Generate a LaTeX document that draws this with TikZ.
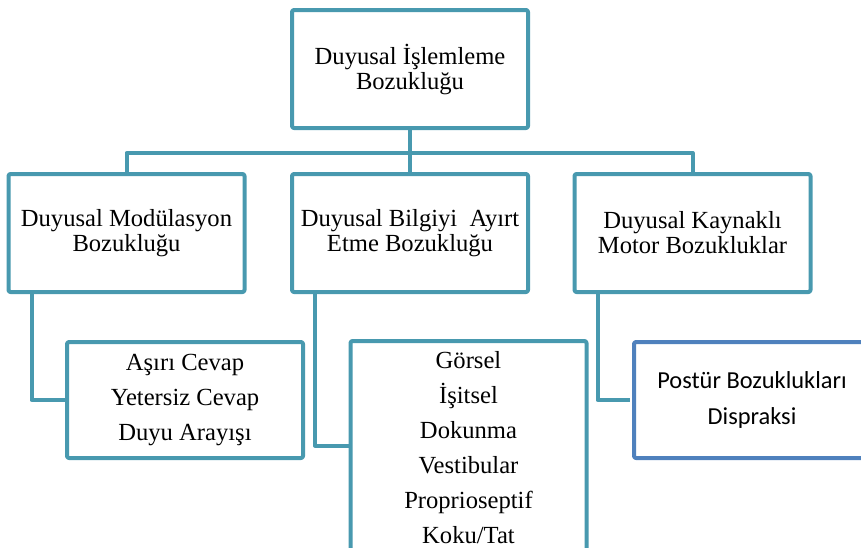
\documentclass[tikz,border=0pt]{standalone}
\usepackage{fontspec}
\setmainfont{Liberation Serif}
\newfontfamily\calibri{Carlito}
\usepackage{tikz}
\usetikzlibrary{calc,positioning}
\definecolor{teal1}{RGB}{72,153,175}
\definecolor{blue1}{RGB}{79,129,189}
\tikzset{box/.style={draw=teal1,line width=2pt,rounded corners=1pt,fill=white,inner sep=0pt,align=center},
  head/.style={box,minimum width=118pt,minimum height=59pt,font=\fontsize{12.3}{12.5}\selectfont},
  kid/.style={box,minimum width=118pt,minimum height=58pt,font=\fontsize{12.3}{17.5}\selectfont},
  conn/.style={draw=teal1,line width=2pt}}

\begin{document}
\begin{tikzpicture}[x=0.5pt,y=-0.5pt,line join=round]
\useasboundingbox (0,0) rectangle (861,547);
\clip (0,0) rectangle (861,547);
% --- top and first level
\node[head] (top) at (410,69) {Duyusal İşlemleme\\Bozukluğu};
\node[head] (mod) at (126.5,233) {Duyusal Modülasyon\\Bozukluğu};
\node[head] (ayirt) at (410,233) {Duyusal Bilgiyi~ Ayırt\\Etme Bozukluğu};
\node[head] (mot) at (692.5,233) {Duyusal Kaynaklı\\Motor Bozukluklar};
\coordinate (bus) at (410,153);
\draw[conn] (top.south) -- (ayirt.north);
\draw[conn] (mod.north) |- (bus) -| (mot.north);
% --- second level
\node[kid] (asiri) at (185,400) {Aşırı Cevap\\Yetersiz Cevap\\Duyu Arayışı};
\node[kid,minimum height=107pt] (gorsel) at (468.5,448) {Görsel\\İşitsel\\Dokunma\\Vestibular\\Proprioseptif\\Koku/Tat};
\node[kid,draw=blue1,font=\calibri\fontsize{12.2}{18}\selectfont] (postur) at (752,400) {Postür Bozuklukları\\Dispraksi};
\draw[conn] ([xshift=12.5pt]mod.south west) |- (asiri.west);
\draw[conn] ([xshift=12.5pt]ayirt.south west) |- ([yshift=1.25pt]gorsel.west);
\draw[conn,shorten >=1pt] ([xshift=12.5pt]mot.south west) |- (postur.west);
\end{tikzpicture}
\end{document}
